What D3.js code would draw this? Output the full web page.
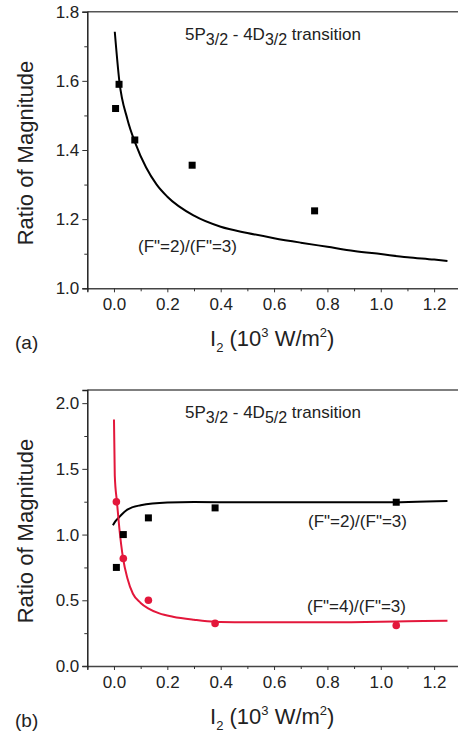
<!DOCTYPE html>
<meta charset="utf-8">
<script src="https://d3js.org/d3.v7.min.js"></script>
<style>
  body { margin: 0; background: #fff; }
  text { font-family: "Liberation Sans", Arial, sans-serif; fill: #222; }
</style>
<div id="chart"></div>
<script>

// panel (a): 5P3/2 - 4D3/2
var aPointsX = [0.006, 0.019, 0.078, 0.293, 0.752]
var aPointsY = [1.52, 1.59, 1.429, 1.356, 1.224]
var aFitX = [0.003, 0.02, 0.05, 0.08, 0.12, 0.16, 0.2, 0.3, 0.4, 0.5, 0.6, 0.7, 0.8, 0.9, 1.0, 1.1, 1.2, 1.25]
var aFitY = [1.742, 1.60, 1.49, 1.42, 1.35, 1.30, 1.265, 1.21, 1.178, 1.16, 1.145, 1.132, 1.12, 1.108, 1.099, 1.09, 1.083, 1.079]

// panel (b): 5P3/2 - 4D5/2
var bPointsX = [0.009, 0.035, 0.129, 0.379, 1.058]
var bBlackY = [0.75, 1.0, 1.127, 1.203, 1.246]
var bRedY = [1.249, 0.818, 0.50, 0.324, 0.309]
var bBlackFitX = [-0.004, 0.005, 0.02, 0.05, 0.1, 0.2, 0.3, 0.5, 0.8, 1.0, 1.25]
var bBlackFitY = [1.071, 1.10, 1.134, 1.19, 1.223, 1.244, 1.248, 1.245, 1.245, 1.245, 1.255]
var bRedFitX = [0.0, 0.003, 0.011, 0.02, 0.034, 0.05, 0.071, 0.1, 0.128, 0.17, 0.221, 0.3, 0.378, 0.5, 0.6, 0.8, 1.0, 1.1, 1.25]
var bRedFitY = [1.875, 1.45, 1.25, 1.05, 0.82, 0.67, 0.55, 0.48, 0.438, 0.40, 0.375, 0.352, 0.337, 0.333, 0.332, 0.332, 0.336, 0.34, 0.345]

var xTicks = [0.0, 0.2, 0.4, 0.6, 0.8, 1.0, 1.2]
var xMinor = [-0.1, 0.1, 0.3, 0.5, 0.7, 0.9, 1.1]
var aYTicks = [1.0, 1.2, 1.4, 1.6, 1.8]
var aYMinor = [1.1, 1.3, 1.5, 1.7]
var bYTicks = [0.0, 0.5, 1.0, 1.5, 2.0]
var bYMinor = [0.25, 0.75, 1.25, 1.75]

var red = "#e3173b"

var svg = d3.select("#chart").append("svg")
    .attr("width", 458)
    .attr("height", 740)

function panel(top, bottom, yDomain, yTicks, yMinor, tag, titleSub, labelCenter) {
  var x = d3.scaleLinear().domain([-0.1, 1.3]).range([87.3, 460.8])
  var y = d3.scaleLinear().domain(yDomain).range([bottom, top])
  var g = svg.append("g")

  // frame
  g.append("line").attr("x1", x(-0.1)).attr("x2", 458).attr("y1", top).attr("y2", top)
    .attr("stroke", "#555").attr("stroke-width", 1.5)

  var xa = g.append("g").attr("transform", "translate(0," + bottom + ")")
    .call(d3.axisBottom(x).tickValues(xTicks).tickFormat(d3.format(".1f")).tickSize(4).tickPadding(6))
  g.append("g").attr("transform", "translate(0," + bottom + ")")
    .call(d3.axisBottom(x).tickValues(xMinor).tickFormat("").tickSize(3))
    .select(".domain").remove()
  var ya = g.append("g").attr("transform", "translate(" + x(-0.1) + ",0)")
    .call(d3.axisLeft(y).tickValues(yTicks).tickFormat(d3.format(".1f")).tickSize(5).tickPadding(3))
  g.append("g").attr("transform", "translate(" + x(-0.1) + ",0)")
    .call(d3.axisLeft(y).tickValues(yMinor).tickFormat("").tickSize(3))
    .select(".domain").remove()

  g.selectAll(".domain").attr("stroke", "#222").attr("stroke-width", 1.5)
  g.selectAll(".tick line").attr("stroke", "#333")
  g.selectAll(".tick text").style("font-size", "17px").style("font-family", "Liberation Sans, Arial").attr("fill", "#222")
  xa.select(".domain").attr("stroke", "#444")

  // y label
  g.append("text")
    .attr("transform", "translate(33," + labelCenter + ") rotate(-90)")
    .attr("text-anchor", "middle")
    .style("font-size", "22px")
    .text("Ratio of Magnitude")

  // x label
  var xl = g.append("text").attr("x", 210).attr("y", bottom + 58).style("font-size", "22px")
  xl.append("tspan").text("I")
  xl.append("tspan").attr("dy", 6).style("font-size", "13px").text("2")
  xl.append("tspan").attr("dy", -6).text(" (10")
  xl.append("tspan").attr("dy", -9).style("font-size", "13px").text("3")
  xl.append("tspan").attr("dy", 9).text(" W/m")
  xl.append("tspan").attr("dy", -9).style("font-size", "13px").text("2")
  xl.append("tspan").attr("dy", 9).text(")")

  g.append("text").attr("x", 15).attr("y", bottom + 61).style("font-size", "19px").text(tag)

  // title
  var t = g.append("text").attr("x", 185).attr("y", top + 28).style("font-size", "17px")
  t.append("tspan").text("5P")
  t.append("tspan").attr("dy", 5).style("font-size", "16px").text("3/2")
  t.append("tspan").attr("dy", -5).text(" - 4D")
  t.append("tspan").attr("dy", 5).style("font-size", "16px").text(titleSub)
  t.append("tspan").attr("dy", -5).text(" transition")

  return { g: g, x: x, y: y }
}

var line = function (p) {
  return d3.line().x(function (d) { return p.x(d[0]) }).y(function (d) { return p.y(d[1]) })
    .curve(d3.curveMonotoneX)
}

function fit(p, xs, ys, color) {
  p.g.append("path").datum(d3.zip(xs, ys))
    .attr("d", line(p)).attr("fill", "none").attr("stroke", color).attr("stroke-width", 2)
}

function squares(p, xs, ys) {
  p.g.selectAll(null).data(d3.zip(xs, ys)).enter().append("rect")
    .attr("x", function (d) { return p.x(d[0]) - 3.5 })
    .attr("y", function (d) { return p.y(d[1]) - 3.5 })
    .attr("width", 7).attr("height", 7).attr("fill", "#000")
}

function dots(p, xs, ys, color) {
  p.g.selectAll(null).data(d3.zip(xs, ys)).enter().append("circle")
    .attr("cx", function (d) { return p.x(d[0]) })
    .attr("cy", function (d) { return p.y(d[1]) })
    .attr("r", 3.8).attr("fill", color)
}

// (a)
var pa = panel(11.7, 288.3, [1.0, 1.8], aYTicks, aYMinor, "(a)", "3/2", 153)
fit(pa, aFitX, aFitY, "#000")
squares(pa, aPointsX, aPointsY)
pa.g.append("text").attr("x", 138).attr("y", 252).style("font-size", "17px").text("(F\"=2)/(F\"=3)")

// (b)
var pb = panel(390, 666, [0, 2.1], bYTicks, bYMinor, "(b)", "5/2", 531)
fit(pb, bBlackFitX, bBlackFitY, "#000")
fit(pb, bRedFitX, bRedFitY, red)
squares(pb, bPointsX, bBlackY)
dots(pb, bPointsX, bRedY, red)
pb.g.append("text").attr("x", 308).attr("y", 527).style("font-size", "17px").text("(F\"=2)/(F\"=3)")
pb.g.append("text").attr("x", 307).attr("y", 612).style("font-size", "17px").text("(F\"=4)/(F\"=3)")

</script>
